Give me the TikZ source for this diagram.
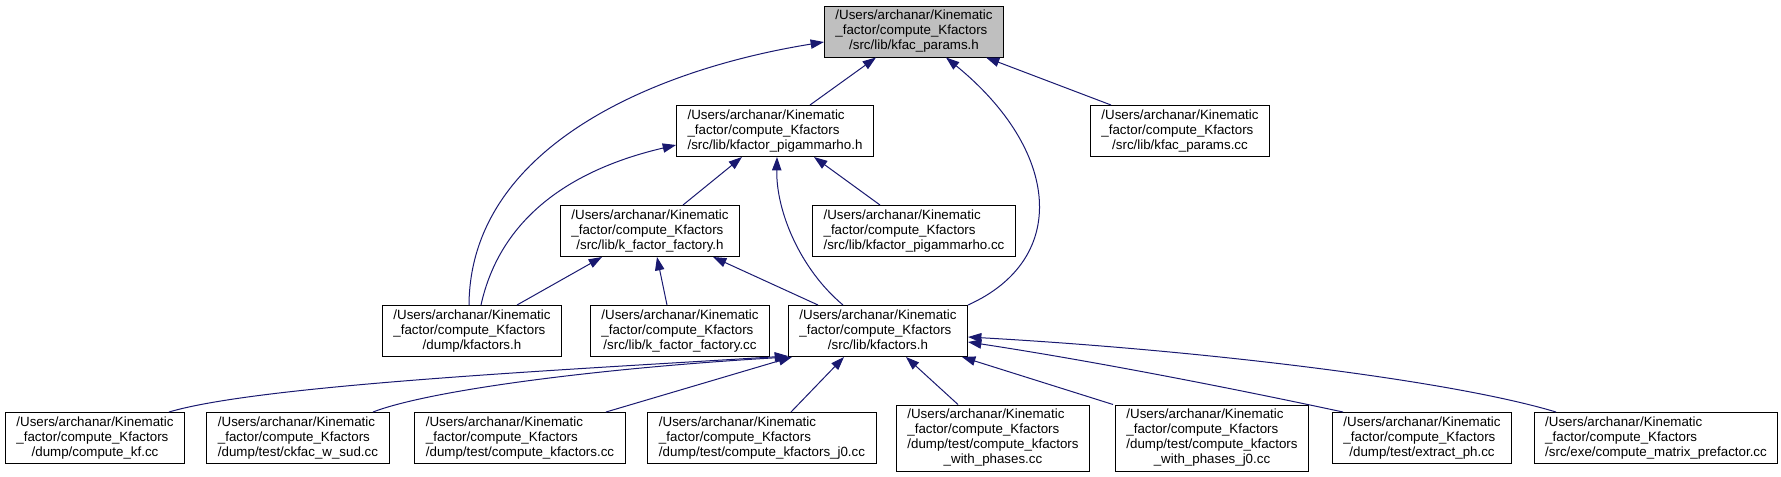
\documentclass[tikz,border=0pt]{standalone}
\usepackage{fontspec}
\setmainfont{Liberation Sans}
\usepackage{tikz}
\usetikzlibrary{arrows.meta,calc}
\definecolor{INK}{HTML}{000000}
\definecolor{EDGE}{HTML}{191970}
\definecolor{TOPGRAY}{HTML}{BFBFBF}
% path label: two left lines, last line centred
\newcommand{\fpath}[1]{\begin{tabular}{@{}l@{}}/Users/archanar/Kinematic\\\_factor/compute\_Kfactors\\\multicolumn{1}{@{}c@{}}{#1}\end{tabular}}
\newcommand{\fpathq}[2]{\begin{tabular}{@{}l@{}}/Users/archanar/Kinematic\\\_factor/compute\_Kfactors\\#1\\\multicolumn{1}{@{}c@{}}{#2}\end{tabular}}

\begin{document}
\begin{tikzpicture}[x=0.75pt,y=-0.75pt]
\tikzset{fnode/.style={draw=INK,line width=0.75pt,fill=white,inner xsep=8.25pt,inner ysep=2.25pt,font=\fontsize{10}{11.25}\selectfont},
 topnode/.style={fnode,fill=TOPGRAY},
 dep/.style={EDGE,line width=0.75pt,-{Triangle[length=10pt,width=7pt]}}}
\useasboundingbox (0,0) rectangle (1781,476);
% upper levels
\node[topnode] (kfacH) at (914,31.5) {\fpath{/src/lib/kfac\_params.h}};
\node[fnode] (pigH) at (775,131) {\fpath{/src/lib/kfactor\_pigammarho.h}};
\node[fnode] (kfacCC) at (1180,131) {\fpath{/src/lib/kfac\_params.cc}};
\node[fnode] (kffH) at (650,231) {\fpath{/src/lib/k\_factor\_factory.h}};
\node[fnode] (pigCC) at (914,231) {\fpath{/src/lib/kfactor\_pigammarho.cc}};
\node[fnode] (dumpKH) at (472,331) {\fpath{/dump/kfactors.h}};
\node[fnode] (kffCC) at (680,331) {\fpath{/src/lib/k\_factor\_factory.cc}};
\node[fnode] (kfH) at (878,331) {\fpath{/src/lib/kfactors.h}};
% bottom row
\node[fnode] (ckf) at (95,438) {\fpath{/dump/compute\_kf.cc}};
\node[fnode] (ckfac) at (298,438) {\fpath{/dump/test/ckfac\_w\_sud.cc}};
\node[fnode] (ckfs) at (520,438) {\fpath{/dump/test/compute\_kfactors.cc}};
\node[fnode] (ckfj0) at (762,438) {\fpath{/dump/test/compute\_kfactors\_j0.cc}};
\node[fnode] (cwp) at (993,438) {\fpathq{/dump/test/compute\_kfactors}{\_with\_phases.cc}};
\node[fnode] (cwpj0) at (1212,438) {\fpathq{/dump/test/compute\_kfactors}{\_with\_phases\_j0.cc}};
\node[fnode] (exph) at (1422,438) {\fpath{/dump/test/extract\_ph.cc}};
\node[fnode] (cmp) at (1656,438) {\fpath{/src/exe/compute\_matrix\_prefactor.cc}};
% includes of kfac_params.h
\draw[dep] ($(pigH.north)+(35,0)$) -- ($(kfacH.south)+(-38,0)$);
\draw[dep] ($(kfacCC.north)+(-69,0)$) -- ($(kfacH.south)+(72,0)$);
\draw[dep] ($(dumpKH.north)+(-3,0)$) .. controls +(1,-156) and +(-174,28) .. ($(kfacH.west)+(0,10.5)$);
\draw[dep] (kfH.north east) .. controls +(102,-46) and +(114,93) .. ($(kfacH.south)+(32,0)$);
% includes of kfactor_pigammarho.h
\draw[dep] ($(kffH.north)+(33,0)$) -- ($(pigH.south)+(-33,0)$);
\draw[dep] ($(pigCC.north)+(-34,0)$) -- ($(pigH.south)+(39,0)$);
\draw[dep] ($(kfH.north)+(-35,0)$) .. controls +(-43,-36) and +(-1,54) .. ($(pigH.south)+(2,0)$);
\draw[dep] ($(dumpKH.north)+(9,0)$) .. controls +(19,-86) and +(-107,25) .. ($(pigH.west)+(0,14)$);
% includes of k_factor_factory.h
\draw[dep] ($(dumpKH.north)+(45,0)$) -- ($(kffH.south)+(-48,0)$);
\draw[dep] ($(kffCC.north)+(-13,0)$) -- ($(kffH.south)+(7,0)$);
\draw[dep] ($(kfH.north)+(-60,0)$) -- ($(kffH.south)+(63,0)$);
% includes of kfactors.h
\draw[dep] ($(ckf.north)+(74,0)$) .. controls +(91,-27) and +(-227,14) .. ($(kfH.south west)+(0,-1)$);
\draw[dep] ($(ckfac.north)+(75,0)$) .. controls +(57,-22) and +(-188,11) .. ($(kfH.south west)+(1,0)$);
\draw[dep] ($(ckfs.north)+(86,0)$) -- ($(kfH.south west)+(4,0)$);
\draw[dep] ($(ckfj0.north)+(29,0)$) -- ($(kfH.south)+(-34,0)$);
\draw[dep] ($(cwp.north)+(-35,0)$) -- ($(kfH.south)+(28,0)$);
\draw[dep] ($(cwpj0.north)+(-99,0)$) -- ($(kfH.south east)+(-6,0)$);
\draw[dep] ($(exph.north)+(-79,0)$) .. controls +(-93,-20) and +(132,20) .. ($(kfH.east)+(0,11)$);
\draw[dep] ($(cmp.north)+(-100,0)$) .. controls +(-106,-32) and +(232,13) .. ($(kfH.east)+(0,6)$);
\end{tikzpicture}
\end{document}
